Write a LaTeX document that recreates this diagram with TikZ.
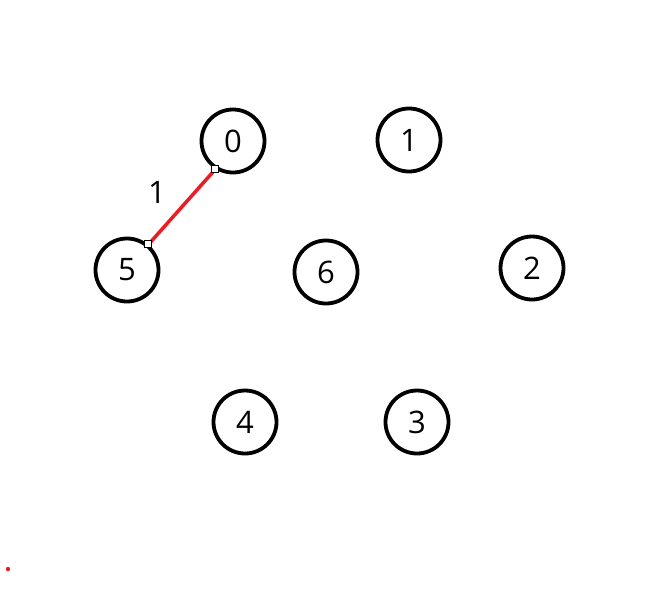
\documentclass[tikz,border=0pt]{standalone}
\usepackage{fontspec}
\setmainfont{Open Sans}
\usetikzlibrary{positioning}
\definecolor{edgeRed}{HTML}{ED1C24}

\begin{document}
\begin{tikzpicture}[
    x=1pt, y=-1pt,
    vertex/.style={
        circle, draw=black, fill=white,
        minimum size=63pt, inner sep=0pt,
        line width=3.8pt, font=\fontsize{31}{34}\selectfont
    },
    endmark/.style={
        rectangle, draw=black, fill=white,
        minimum size=7pt, inner sep=0pt, line width=1pt
    },
    edge/.style={draw=edgeRed, line width=3.5pt}
]
  \useasboundingbox (0,0) rectangle (660,595);

  % Vertices
  \node[vertex] (n0) at (233,141) {0};
  \node[vertex] (n1) at (409,140) {1};
  \node[vertex] (n5) at (127,270) {5};
  \node[vertex] (n6) at (326,272) {6};
  \node[vertex] (n2) at (532,268) {2};
  \node[vertex] (n4) at (245,422) {4};
  \node[vertex] (n3) at (417,422) {3};

  % Edge 0 -- 5 with its weight
  \draw[edge] (n0.-122) -- (n5.50);
  \node[endmark] (m0) at (n0.-122) {};
  \node[endmark] (m5) at (n5.50) {};
  \node[font=\fontsize{31}{34}\selectfont] (w05) at (157,192) {1};

  % Stray point
  \fill[edgeRed] (8,569) circle (2.2pt);
\end{tikzpicture}
\end{document}
